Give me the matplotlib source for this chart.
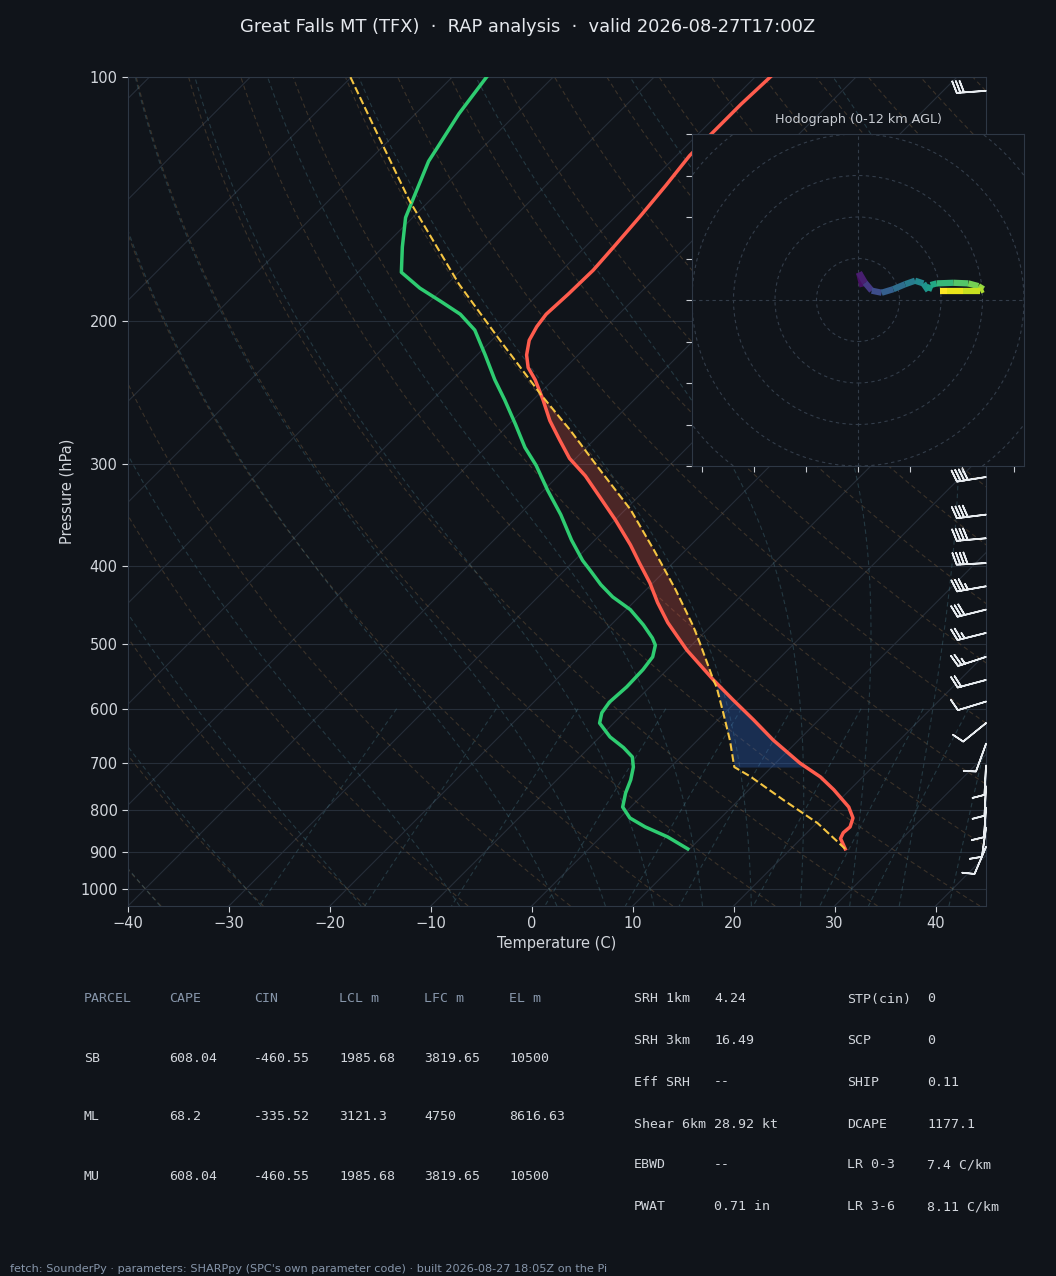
"""
Skew-T / log-p sounding for Great Falls (TFX) with a hodograph inset
and a SHARPpy-style parameter table underneath.
"""
import numpy as np
import matplotlib
matplotlib.use("Agg")
from matplotlib import pyplot as plt
from matplotlib import transforms
from matplotlib.collections import LineCollection
from matplotlib.patches import Circle
from matplotlib.ticker import FixedLocator, FixedFormatter, NullLocator

BG = "#10141a"
GRID = "#262e39"
SPINE = "#2e3845"
TEXT = "#d2d6dc"
MUTED = "#8796aa"

#Environmental temperature (hPa, C)
temp_p = [893, 867, 853, 839, 818, 793, 755, 728, 700, 656, 619, 585, 553,
          508, 470, 444, 420, 397, 377, 351, 329, 310, 295, 280, 265, 250,
          236, 228, 220, 211, 203, 196, 185, 173, 161, 148, 136, 125, 108, 100]
temp_c = [25.4, 23.9, 23.6, 23.7, 23.1, 21.6, 18.4, 15.8, 12.4, 7.5, 3.5,
          -0.5, -4.4, -10.0, -14.6, -17.6, -20.3, -23.3, -26.0, -30.0, -33.8,
          -37.3, -40.6, -43.4, -46.3, -49.0, -51.8, -53.7, -55.1, -56.3,
          -56.9, -57.2, -57.0, -56.9, -57.2, -57.6, -58.1, -58.7, -58.7, -58.5]

#Dewpoint (hPa, C)
dewp_p = [893, 863, 839, 818, 793, 762, 734, 708, 688, 670, 650, 625, 607,
          589, 564, 537, 518, 501, 491, 473, 453, 437, 422, 405, 394, 372,
          346, 323, 301, 286, 268, 250, 236, 220, 205, 196, 189, 182, 174,
          162, 149, 142, 127, 122, 111, 100]
dewp_c = [9.8, 6.6, 3.4, 1.0, -0.8, -1.9, -2.7, -3.7, -4.8, -6.6, -9.0,
          -11.4, -12.2, -12.5, -12.3, -12.4, -12.7, -13.6, -14.6, -16.8,
          -19.6, -22.6, -25.0, -27.5, -29.2, -32.3, -35.9, -39.6, -43.2,
          -46.1, -49.3, -52.8, -55.8, -59.2, -62.7, -65.7, -68.9, -72.3,
          -75.7, -78.1, -80.7, -81.7, -84.0, -84.5, -85.7, -86.6]

#Surface based parcel path (hPa, C)
parcel_p = [893, 830, 777, 727, 708, 656, 608, 564, 553, 498, 475, 428, 383,
            341, 305, 272, 246, 211, 180, 142, 115, 100]
parcel_c = [25.4, 20.1, 14.4, 8.8, 6.3, 3.2, -0.1, -3.4, -4.4, -9.4, -11.7,
            -17.1, -23.1, -29.5, -36.4, -43.4, -49.8, -59.2, -68.8, -82.0,
            -92.9, -100.1]
lcl_p, lfc_p, el_p = 708, 553, 246

#Wind barbs (hPa, direction from, kt)
barb_p = [104, 311, 346, 370, 397, 424, 453, 484, 518, 553, 588, 625, 663,
          705, 748, 795, 841, 888]
barb_dir = [266, 261, 263, 265, 267, 260, 256, 256, 252, 255, 253, 231, 200,
            183, 183, 184, 188, 203]
barb_spd = [30, 40, 40, 40, 40, 35, 30, 25, 25, 20, 10, 10, 10, 10, 10, 10,
            10, 10]

#Hodograph (km AGL, u kt, v kt)
hodo_z = [0.0, 0.5, 1.0, 2.0, 2.8, 3.6, 4.3, 5.0, 5.6, 6.2, 6.6, 7.2, 8.0,
          8.8, 9.5, 10.0, 10.5, 11.0, 11.6, 12.0]
hodo_u = [2.2, 0.5, 3.4, 6.6, 11.4, 17.0, 22.7, 27.5, 31.5, 33.9, 35.0, 37.9,
          45.9, 53.2, 58.0, 60.4, 58.8, 50.7, 42.7, 39.5]
hodo_v = [6.4, 13.2, 8.3, 4.5, 3.5, 5.2, 7.6, 9.3, 8.0, 4.5, 7.2, 8.0, 8.3,
          8.0, 6.7, 5.2, 4.5, 4.5, 4.5, 4.5]

#Parameter tables
parcel_header = ["PARCEL", "CAPE", "CIN", "LCL m", "LFC m", "EL m"]
parcel_rows = [["SB", "608.04", "-460.55", "1985.68", "3819.65", "10500"],
               ["ML", "68.2", "-335.52", "3121.3", "4750", "8616.63"],
               ["MU", "608.04", "-460.55", "1985.68", "3819.65", "10500"]]
params_left = [("SRH 1km", "4.24"), ("SRH 3km", "16.49"), ("Eff SRH", "--"),
               ("Shear 6km", "28.92 kt"), ("EBWD", "--"), ("PWAT", "0.71 in")]
params_right = [("STP(cin)", "0"), ("SCP", "0"), ("SHIP", "0.11"),
                ("DCAPE", "1177.1"), ("LR 0-3", "7.4 C/km"),
                ("LR 3-6", "8.11 C/km")]

p_ticks = [100, 200, 300, 400, 500, 600, 700, 800, 900, 1000]


def moist_dtdp(t, p):
    """Saturated adiabatic lapse rate dT/dp (K/hPa)"""
    es = 6.112 * np.exp(17.67 * (t - 273.15) / (t - 29.65))
    rs = 0.622 * es / (p - es)
    num = 287.04 * t + 2.501e6 * rs
    den = 1005.7 + (2.501e6 ** 2) * rs * 0.622 / (287.04 * t * t)
    return num / (p * den)


def moist_adiabats(t0_c, p_from, p_to, n):
    ps = np.linspace(p_from, p_to, n)
    t = np.asarray(t0_c, dtype=float) + 273.15
    out = [t.copy()]
    for i in range(n - 1):
        h = ps[i + 1] - ps[i]
        k1 = moist_dtdp(t, ps[i])
        k2 = moist_dtdp(t + h / 2 * k1, ps[i] + h / 2)
        k3 = moist_dtdp(t + h / 2 * k2, ps[i] + h / 2)
        k4 = moist_dtdp(t + h * k3, ps[i + 1])
        t = t + h / 6 * (k1 + 2 * k2 + 2 * k3 + k4)
        out.append(t.copy())
    return ps, np.array(out) - 273.15


fig = plt.figure(figsize=(10.56, 12.76), dpi=100, facecolor=BG)
ax_w, ax_h = 858, 829
ax = fig.add_axes([128 / 1056, 370 / 1276, ax_w / 1056, ax_h / 1276])
ax.set_facecolor(BG)
ax.set_yscale("log")
ax.set_xlim(-40, 45)
ax.set_ylim(1050, 100)
ax.autoscale(False)

#45 degree skew in screen space
skew = (ax.transScale + ax.transLimits
        + transforms.Affine2D().skew(np.arctan(ax_h / ax_w), 0)
        + ax.transAxes)

#Isobars and isotherms
for p in p_ticks:
    ax.axhline(p, color=GRID, lw=0.8, zorder=1)
for t in range(-140, 50, 10):
    ax.plot([t, t], [1050, 100], color=GRID, lw=0.8, zorder=1,
            transform=skew)

#Dry adiabats
p_line = np.geomspace(1050, 100, 150)
for t0 in range(-40, 250, 10):
    t_dry = (t0 + 273.15) * (p_line / 1000.0) ** 0.2857 - 273.15
    ax.plot(t_dry, p_line, color="#8a6a45", alpha=0.35, lw=0.8,
            ls=(0, (4, 3)), zorder=1, transform=skew)

#Moist adiabats
moist_t0 = np.concatenate((np.arange(-40, 0, 10), np.arange(0, 96, 5)))
p_up, t_up = moist_adiabats(moist_t0, 1000, 100, 180)
p_dn, t_dn = moist_adiabats(moist_t0, 1000, 1050, 8)
p_moist = np.concatenate((p_dn[::-1], p_up[1:]))
t_moist = np.vstack((t_dn[::-1], t_up[1:]))
for k in range(len(moist_t0)):
    ax.plot(t_moist[:, k], p_moist, color="#4a7d8c", alpha=0.35, lw=0.8,
            ls=(0, (4, 3)), zorder=1, transform=skew)

#Mixing ratio lines
p_mr = np.linspace(600, 1050, 40)
for w in [0.0004, 0.001, 0.002, 0.004, 0.007, 0.01, 0.016, 0.024, 0.032]:
    e = w * p_mr / (0.622 + w)
    a = np.log(e / 6.112)
    td = 243.5 * a / (17.67 - a)
    ax.plot(td, p_mr, color="#4a7d8c", alpha=0.35, lw=0.8, ls=(0, (4, 3)),
            zorder=1, transform=skew)

#CIN and CAPE shading between parcel and environment
lp_env = np.log(temp_p)[::-1]
lp_par = np.log(parcel_p)[::-1]
p_cin = np.geomspace(lcl_p, lfc_p, 80)
p_cape = np.geomspace(lfc_p, el_p, 200)
for p_fill, col, alpha in [(p_cin, "#2f6bd1", 0.3), (p_cape, "#ff5c4d", 0.25)]:
    t_env = np.interp(np.log(p_fill), lp_env, np.array(temp_c)[::-1])
    t_par = np.interp(np.log(p_fill), lp_par, np.array(parcel_c)[::-1])
    ax.fill_betweenx(p_fill, t_env, t_par, color=col, alpha=alpha, lw=0,
                     zorder=2, transform=skew)

#Profiles
ax.plot(temp_c, temp_p, color="#ff5c4d", lw=2.5, zorder=3, transform=skew)
ax.plot(dewp_c, dewp_p, color="#2ecc71", lw=2.5, zorder=3, transform=skew)
ax.plot(parcel_c, parcel_p, color="#f5c542", lw=1.5, ls="--", zorder=3,
        transform=skew)

#Wind barbs along the right edge
wd = np.radians(barb_dir)
barb_u = -np.array(barb_spd) * np.sin(wd)
barb_v = -np.array(barb_spd) * np.cos(wd)
edge = transforms.blended_transform_factory(ax.transAxes, ax.transData)
ax.barbs(np.ones(len(barb_p)), barb_p, barb_u, barb_v, transform=edge,
         color="#e8ecf0", length=6.5, linewidth=1.2, clip_on=False, zorder=4)

#Axes styling
ax.yaxis.set_major_locator(FixedLocator(p_ticks))
ax.yaxis.set_major_formatter(FixedFormatter([str(p) for p in p_ticks]))
ax.yaxis.set_minor_locator(NullLocator())
ax.xaxis.set_major_locator(FixedLocator(range(-40, 41, 10)))
ax.tick_params(colors=TEXT, labelsize=10.5, direction="out", length=4)
for s in ax.spines.values():
    s.set_color(SPINE)
ax.set_xlabel("Temperature (C)", color=TEXT, fontsize=10.5, labelpad=3)
ax.set_ylabel("Pressure (hPa)", color=TEXT, fontsize=10.5, labelpad=4)

#Hodograph inset
hax = fig.add_axes([692 / 1056, 810 / 1276, 332 / 1056, 332 / 1276])
hax.set_zorder(5)
hax.set_facecolor(BG)
hax.set_xlim(-80, 80)
hax.set_ylim(-80, 80)
for r in range(20, 121, 20):
    hax.add_patch(Circle((0, 0), r, fill=False, ec="#333d4a", lw=0.8,
                         ls=(0, (3, 3))))
hax.axhline(0, color="#333d4a", lw=0.8, ls=(0, (3, 3)))
hax.axvline(0, color="#333d4a", lw=0.8, ls=(0, (3, 3)))
pts = np.column_stack([hodo_u, hodo_v]).reshape(-1, 1, 2)
segs = np.concatenate([pts[:-1], pts[1:]], axis=1)
lc = LineCollection(segs, cmap="viridis", norm=plt.Normalize(0, 12),
                    linewidths=4.5, zorder=3)
lc.set_array(np.array(hodo_z[1:]))
hax.add_collection(lc)
hax.xaxis.set_major_locator(FixedLocator(range(-75, 76, 25)))
hax.yaxis.set_major_locator(FixedLocator(range(-80, 81, 20)))
hax.tick_params(colors="#c8ccd2", labelbottom=False, labelleft=False,
                direction="out", length=4)
for s in hax.spines.values():
    s.set_color(SPINE)
hax.set_title("Hodograph (0-12 km AGL)", color="#c8ccd2", fontsize=9.2,
              pad=8)

#Title
fig.text(0.5, 1 - 27 / 1276,
         "Great Falls MT (TFX)  \u00b7  RAP analysis  \u00b7  valid 2026-08-27T17:00Z",
         ha="center", va="center", fontsize=12.9, color="#e6e9ee")

#Parcel table
col_x = [84, 169, 254, 339, 424, 509]
row_y = [999, 1058, 1117, 1176]
for x, txt in zip(col_x, parcel_header):
    fig.text(x / 1056, 1 - row_y[0] / 1276, txt, family="DejaVu Sans Mono",
             fontsize=9.5, color=MUTED, va="center")
for y, row in zip(row_y[1:], parcel_rows):
    for x, txt in zip(col_x, row):
        fig.text(x / 1056, 1 - y / 1276, txt, family="DejaVu Sans Mono",
                 fontsize=9.5, color=TEXT, va="center")

#Kinematic / composite parameters
par_y = [999, 1041, 1082, 1124, 1165, 1207]
for (x_lab, x_val), params in [((634, 714), params_left),
                               ((847, 927), params_right)]:
    for y, (lab, val) in zip(par_y, params):
        fig.text(x_lab / 1056, 1 - y / 1276, lab, family="DejaVu Sans Mono",
                 fontsize=9.5, color=TEXT, va="center")
        fig.text(x_val / 1056, 1 - y / 1276, val, family="DejaVu Sans Mono",
                 fontsize=9.5, color=TEXT, va="center")

fig.text(10 / 1056, 1 - 1269 / 1276,
         "fetch: SounderPy \u00b7 parameters: SHARPpy (SPC's own parameter code)"
         " \u00b7 built 2026-08-27 18:05Z on the Pi",
         fontsize=8.15, color=MUTED, va="center")

fig.savefig("out.png", dpi=100, facecolor=BG)
